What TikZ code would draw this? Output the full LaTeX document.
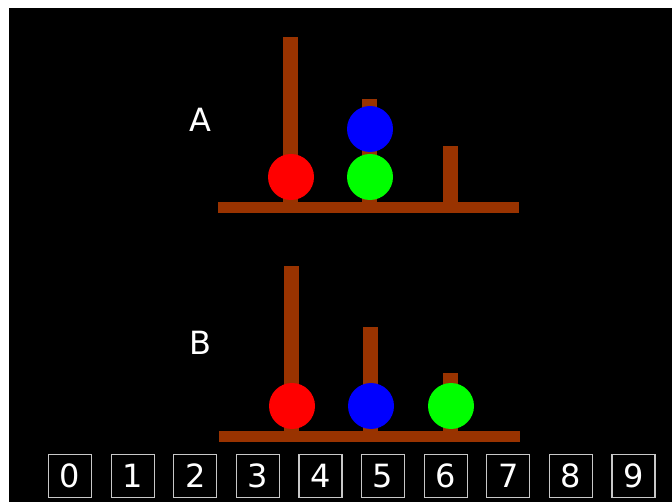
\documentclass[tikz,border=0pt]{standalone}
\usepackage{fontspec}
\setmainfont{DejaVu Sans}
\definecolor{wood}{RGB}{153,51,0}
\definecolor{boxline}{RGB}{200,200,200}
\tikzset{
  wood/.style={fill=wood, draw=none},
  ball/.style={circle, minimum size=46pt, inner sep=0pt, draw=none},
  lbl/.style={text=white, font=\fontsize{32}{32}\selectfont, inner sep=0pt},
  numbox/.style={draw=boxline, line width=1.2pt, minimum width=43pt, minimum height=43pt, inner sep=0pt, text=white, font=\fontsize{32}{32}\selectfont},
}
\begin{document}
\begin{tikzpicture}[x=1pt,y=-1pt]
\useasboundingbox (0,0) rectangle (672,502);
\fill[white] (0,0) rectangle (672,502);
\fill[black] (9,8) rectangle (672,502);
% Scene A
\fill[wood] (218,202) rectangle (519,213);
\fill[wood] (283,37) rectangle (298,202);
\fill[wood] (362,99) rectangle (377,202);
\fill[wood] (443,146) rectangle (458,202);
\node[ball, fill=red] (aR) at (291,177) {};
\node[ball, fill=green] (aG) at (370,177) {};
\node[ball, fill=blue] (aB) at (370,129) {};
\node[lbl] (lA) at (200,120) {A};
% Scene B
\fill[wood] (219,431) rectangle (520,442);
\fill[wood] (284,266) rectangle (299,431);
\fill[wood] (363,327) rectangle (378,431);
\fill[wood] (443,373) rectangle (458,431);
\node[ball, fill=red] (bR) at (292,406) {};
\node[ball, fill=blue] (bB) at (371,406) {};
\node[ball, fill=green] (bG) at (451,406) {};
\node[lbl] (lB) at (200,343) {B};
% number boxes
\foreach \i in {0,...,9} {
  \node[numbox] (n\i) at ({70+62.6*\i},475.8) {\i};
}
\end{tikzpicture}
\end{document}
